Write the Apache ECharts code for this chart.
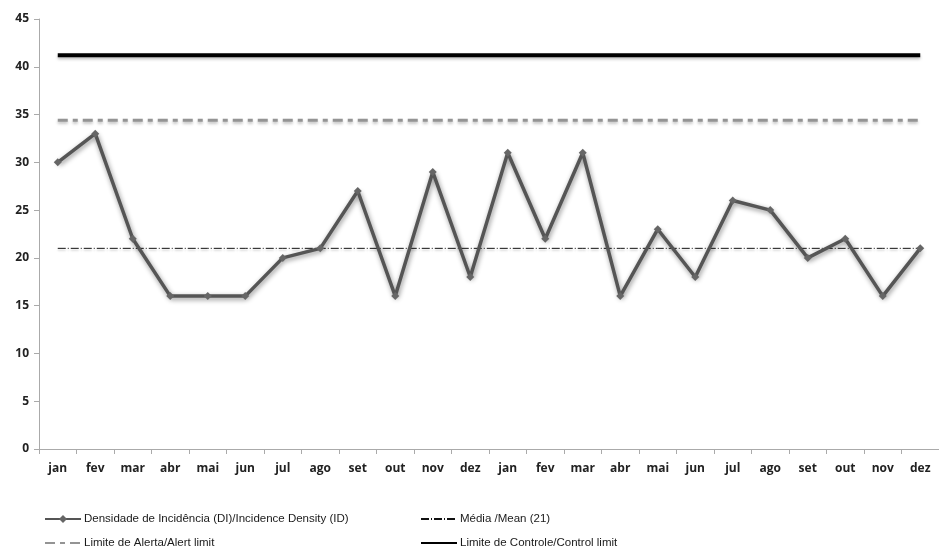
<!DOCTYPE html>
<html>
<head>
<meta charset="utf-8">
<script src="https://cdn.jsdelivr.net/npm/echarts@6/dist/echarts.min.js"></script>
<style>html,body{margin:0;padding:0;background:#fff}#c{width:939px;height:549px}</style>
</head>
<body>
<div id="c"></div>
<script>
var categories = ['jan','fev','mar','abr','mai','jun','jul','ago','set','out','nov','dez','jan','fev','mar','abr','mai','jun','jul','ago','set','out','nov','dez'];
var densityValues = [30,33,22,16,16,16,20,21,27,16,29,18,31,22,31,16,23,18,26,25,20,22,16,21];
var meanValue = 21;
var alertLimit = 34.4;
var controlLimit = 41.2;
var yTicks = {min: 0, max: 45, interval: 5};
var seriesNames = ['Densidade de Incidência (DI)/Incidence Density (ID)','Média /Mean (21)','Limite de Alerta/Alert limit','Limite de Controle/Control limit'];

var meanData = categories.map(function(){return meanValue;});
var alertData = categories.map(function(){return alertLimit;});
var controlData = categories.map(function(){return controlLimit;});

var font = '"Open Sans", "Liberation Sans", sans-serif';
var legFont = '"Liberation Sans Narrow", "Liberation Sans", sans-serif';
var chart = echarts.init(document.getElementById('c'), null, {renderer:'canvas'});
function leg(name, left, top, hideSymbol){
  var l = {data:[name], left:left, top:top, itemWidth:36, itemHeight:10, itemGap:0, padding:0,
    textStyle:{fontFamily:legFont, fontSize:11.5, color:'#1a1a1a', padding:[0,0,0,-2]}, selectedMode:false};
  if (hideSymbol) l.itemStyle = {color:'rgba(0,0,0,0)', borderWidth:0};
  return l;
}
chart.setOption({
  animation:false,
  backgroundColor:'#fff',
  grid:{left:39, top:19, width:909, bottom:100, containLabel:false},
  legend:[
    leg(seriesNames[0], 44, 513, false),
    leg(seriesNames[1], 420, 513, true),
    leg(seriesNames[2], 44, 537, true),
    leg(seriesNames[3], 420, 537, true)
  ],
  xAxis:{type:'category', data:categories, boundaryGap:true,
    axisLine:{lineStyle:{color:'#aaa', width:1}},
    axisTick:{show:true, length:5, lineStyle:{color:'#aaa'}},
    axisLabel:{color:'#222', fontFamily:font, fontSize:12, fontWeight:'bold', margin:14, interval:0},
    splitLine:{show:false}},
  yAxis:{type:'value', min:yTicks.min, max:yTicks.max, interval:yTicks.interval,
    axisLine:{show:true, lineStyle:{color:'#aaa', width:1}},
    axisTick:{show:true, length:5, lineStyle:{color:'#aaa'}},
    axisLabel:{color:'#222', fontFamily:font, fontSize:12, fontWeight:'bold', margin:10},
    splitLine:{show:false}},
  series:[
    {name:seriesNames[3], type:'line', data:controlData, symbol:'none', z:1,
      lineStyle:{color:'#000', width:4, shadowColor:'rgba(0,0,0,0.25)', shadowBlur:3, shadowOffsetY:2},
      itemStyle:{color:'#000'}},
    {name:seriesNames[2], type:'line', data:alertData, symbol:'none', z:1,
      lineStyle:{color:'#949494', width:3, type:[10,5,5,5], shadowColor:'rgba(0,0,0,0.25)', shadowBlur:3, shadowOffsetY:2},
      itemStyle:{color:'#949494'}},
    {name:seriesNames[1], type:'line', data:meanData, symbol:'none', z:1,
      lineStyle:{color:'#111', width:1, type:[8,2,1,2], shadowColor:'rgba(0,0,0,0.2)', shadowBlur:2, shadowOffsetY:2},
      itemStyle:{color:'#111'}},
    {name:seriesNames[0], type:'line', data:densityValues, symbol:'diamond', symbolSize:8, z:3,
      lineStyle:{color:'#555', width:3.5, shadowColor:'rgba(0,0,0,0.45)', shadowBlur:5, shadowOffsetX:1, shadowOffsetY:2},
      itemStyle:{color:'#666', borderWidth:0}}
  ]
});
</script>
</body>
</html>
